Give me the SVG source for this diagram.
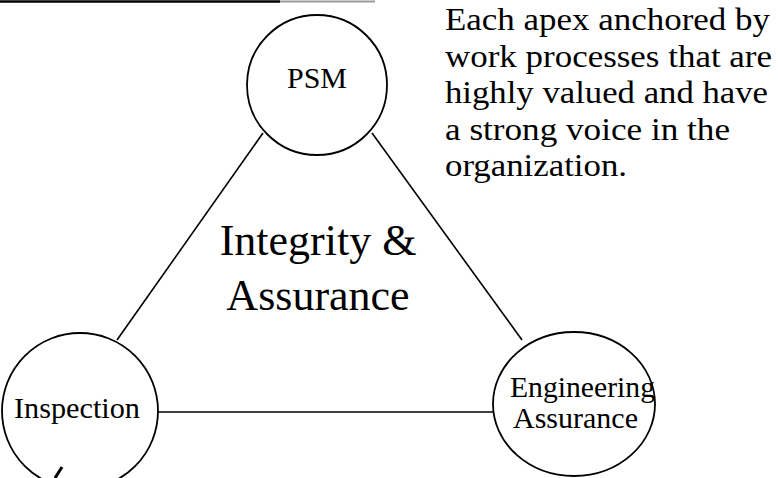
<svg xmlns="http://www.w3.org/2000/svg" width="778" height="478" viewBox="0 0 778 478">
<style>
.node{fill:#fff;stroke:#000;stroke-width:1.8}
.edge{stroke:#000;stroke-width:1.6;fill:none}
.lbl{font-family:"Liberation Serif","Times New Roman",serif;font-size:30px;fill:#000}
.big{font-family:"Liberation Serif","Times New Roman",serif;font-size:44px;fill:#000;text-anchor:middle}
.note{font-family:"Liberation Serif","Times New Roman",serif;font-size:32px;fill:#000}
</style>
<rect width="778" height="478" fill="#fff"/>
<line x1="0" y1="1.5" x2="280" y2="1.5" stroke="#000" stroke-width="2.5"/>
<line x1="280" y1="1.5" x2="375" y2="1.5" stroke="#999" stroke-width="2"/>
<g id="connectors">
<line class="edge" x1="263" y1="133" x2="117" y2="340"/>
<line class="edge" x1="372" y1="133" x2="522" y2="340"/>
<line class="edge" x1="158" y1="412" x2="493" y2="412"/>
</g>
<g id="psm">
<circle class="node" cx="317" cy="85" r="70"/>
<text class="lbl" x="317" y="88" text-anchor="middle">PSM</text>
</g>
<g id="inspection">
<circle class="node" cx="80" cy="411" r="78"/>
<text class="lbl" x="14" y="418" textLength="126" lengthAdjust="spacingAndGlyphs">Inspection</text>
</g>
<g id="engineering">
<ellipse class="node" cx="574" cy="404" rx="81" ry="72"/>
<text class="lbl" x="510" y="397" textLength="145" lengthAdjust="spacingAndGlyphs">Engineering</text>
<text class="lbl" x="513" y="428" textLength="125" lengthAdjust="spacingAndGlyphs">Assurance</text>
</g>
<g id="center">
<text class="big" x="318" y="255">Integrity &amp;</text>
<text class="big" x="318" y="310">Assurance</text>
</g>
<g id="note">
<text class="note" x="445" y="30" textLength="325" lengthAdjust="spacingAndGlyphs">Each apex anchored by</text>
<text class="note" x="445" y="67" textLength="327" lengthAdjust="spacingAndGlyphs">work processes that are</text>
<text class="note" x="445" y="103" textLength="323" lengthAdjust="spacingAndGlyphs">highly valued and have</text>
<text class="note" x="445" y="140" textLength="285" lengthAdjust="spacingAndGlyphs">a strong voice in the</text>
<text class="note" x="445" y="176" textLength="182" lengthAdjust="spacingAndGlyphs">organization.</text>
</g>
<path d="M62 467 L55 478" stroke="#000" stroke-width="3" fill="none"/>
</svg>
